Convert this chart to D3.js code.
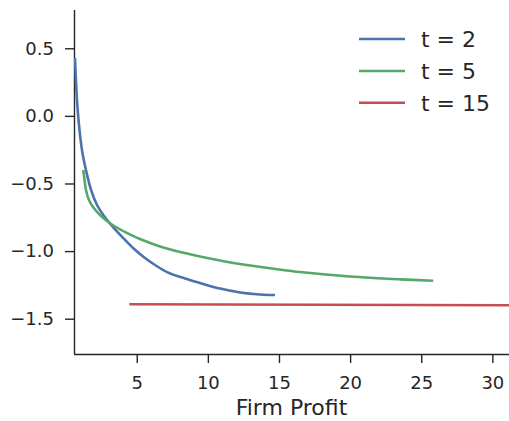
<!DOCTYPE html>
<html>
<head>
<meta charset="utf-8">
<script src="https://cdn.jsdelivr.net/npm/d3@7"></script>
<style>
  body { margin: 0; background: #fff; }
  text { font-family: "DejaVu Sans", sans-serif; fill: #262626; }
</style>
</head>
<body>
<svg id="chart" width="509" height="421"></svg>
<script>
// ---- data ----
const seriesNames = ["t = 2", "t = 5", "t = 15"];
const seriesColors = ["#4C72B0", "#55A868", "#C44E52"];
const t2x = [0.66, 0.80, 0.94, 1.15, 1.43, 1.79, 2.21, 2.70, 3.26, 3.97, 4.74, 5.58, 6.29, 7.13, 8.40, 9.45, 10.86, 12.27, 13.67, 14.72];
const t2y = [0.428, 0.118, -0.067, -0.252, -0.400, -0.548, -0.659, -0.740, -0.814, -0.895, -0.977, -1.051, -1.103, -1.155, -1.203, -1.236, -1.277, -1.306, -1.321, -1.325];
const t5x = [1.24, 1.33, 1.43, 1.64, 1.98, 2.42, 2.91, 3.47, 4.25, 5.23, 6.64, 8.05, 9.45, 11.21, 12.97, 14.73, 16.48, 19.99, 23.52, 25.84];
const t5y = [-0.400, -0.474, -0.548, -0.622, -0.681, -0.733, -0.777, -0.818, -0.862, -0.911, -0.966, -1.007, -1.040, -1.077, -1.107, -1.132, -1.155, -1.188, -1.209, -1.219];
const t15x = [4.48, 31.2];
const t15y = [-1.393, -1.400];
const xTicks = [5, 10, 15, 20, 25, 30];
const yTicks = [0.5, 0.0, -0.5, -1.0, -1.5];
const xLabel = "Firm Profit";

const series = [
  t2x.map((x, i) => [x, t2y[i]]),
  t5x.map((x, i) => [x, t5y[i]]),
  t15x.map((x, i) => [x, t15y[i]])
];

// ---- layout ----
const svg = d3.select("#chart");
const mLeft = 74, mRight = 509, mTop = 10, mBottom = 354;
const x = d3.scaleLinear().domain([0.59, 31.17]).range([mLeft, mRight]);
const y = d3.scaleLinear().domain([-1.761, 0.783]).range([mBottom, mTop]);

svg.append("defs").append("clipPath").attr("id", "clip")
  .append("rect").attr("x", mLeft).attr("y", mTop).attr("width", mRight - mLeft).attr("height", mBottom - mTop);

const fmtY = d => d3.format(".1f")(d).replace("-", "\u2212");

const xAxis = svg.append("g").attr("transform", `translate(0,${mBottom})`)
  .call(d3.axisBottom(x).tickValues(xTicks).tickSize(9).tickPadding(13).tickFormat(d3.format("d")));
const yAxis = svg.append("g").attr("transform", `translate(${mLeft},0)`)
  .call(d3.axisLeft(y).tickValues(yTicks).tickSize(9).tickPadding(11).tickFormat(fmtY));

[xAxis, yAxis].forEach(g => {
  g.select(".domain").attr("stroke", "#262626").attr("stroke-width", 1.4);
  g.selectAll(".tick line").attr("stroke", "#262626").attr("stroke-width", 1.4);
  g.selectAll(".tick text").attr("font-size", 18).attr("fill", "#262626")
    .style("font-family", "DejaVu Sans, sans-serif");
});
xAxis.select(".domain").attr("d", `M${mLeft},0.5H${mRight}`);
yAxis.select(".domain").attr("d", `M0.5,${mTop}V${mBottom}`);

svg.append("text").attr("x", (mLeft + mRight) / 2).attr("y", 415)
  .attr("text-anchor", "middle").attr("font-size", 22).text(xLabel);

const line = d3.line().x(d => x(d[0])).y(d => y(d[1])).curve(d3.curveCatmullRom.alpha(0.5));
const plot = svg.append("g").attr("clip-path", "url(#clip)");
series.forEach((s, i) => {
  plot.append("path").datum(s).attr("d", line)
    .attr("fill", "none").attr("stroke", seriesColors[i]).attr("stroke-width", 2.6);
});

// ---- legend ----
const legY = [39, 71, 102.7];
seriesNames.forEach((n, i) => {
  svg.append("line").attr("x1", 359).attr("x2", 405).attr("y1", legY[i]).attr("y2", legY[i])
    .attr("stroke", seriesColors[i]).attr("stroke-width", 2.6);
  svg.append("text").attr("x", 421).attr("y", legY[i] + 8).attr("font-size", 22).text(n);
});
</script>
</body>
</html>
